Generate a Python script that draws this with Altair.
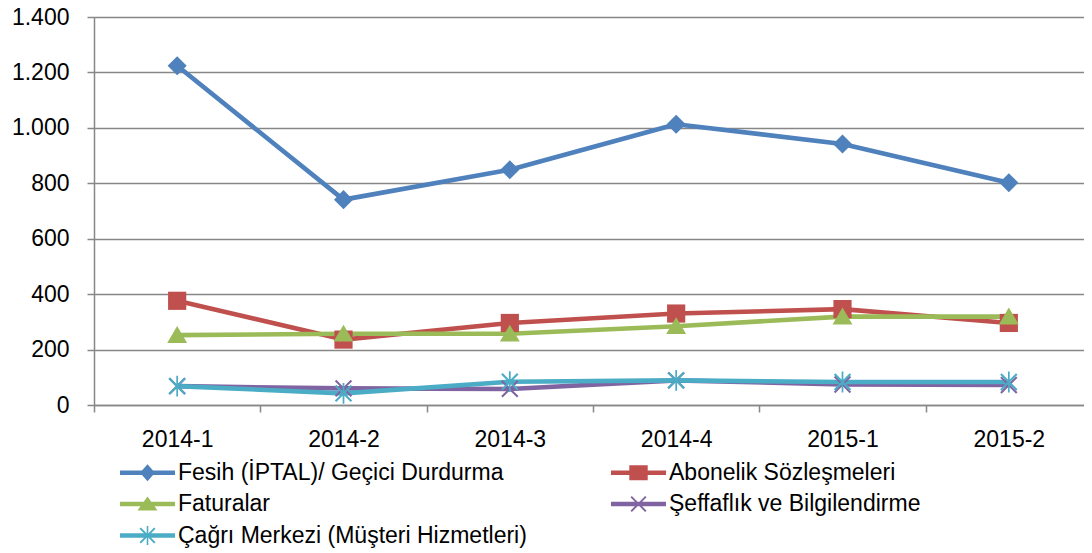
import altair as alt
import pandas as pd

categories = ["2014-1", "2014-2", "2014-3", "2014-4", "2015-1", "2015-2"]
series_names = [
    "Fesih (İPTAL)/ Geçici Durdurma",
    "Abonelik Sözleşmeleri",
    "Faturalar",
    "Şeffaflık ve Bilgilendirme",
    "Çağrı Merkezi (Müşteri Hizmetleri)",
]
fesih = [1224, 741, 849, 1013, 942, 802]
abonelik = [376, 236, 296, 330, 346, 296]
faturalar = [252, 257, 257, 284, 319, 319]
seffaflik = [68, 60, 58, 89, 74, 72]
cagri = [68, 42, 84, 89, 83, 83]
y_ticks = [0, 200, 400, 600, 800, 1000, 1200, 1400]

colors = ["#4F81BD", "#C0504D", "#9BBB59", "#8064A2", "#4BACC6"]

X_PATH = ("M-1,-0.83L-0.83,-1L0,-0.17L0.83,-1L1,-0.83L0.17,0L1,0.83L0.83,1"
          "L0,0.17L-0.83,1L-1,0.83L-0.17,0Z")
ASTER_PATH = X_PATH + "M-0.1,-1.2L0.1,-1.2L0.1,1.2L-0.1,1.2Z"
DIAMOND = "M0,-1.1L1.1,0L0,1.1L-1.1,0Z"
SQUARE = "M-1.05,-1.05L1.05,-1.05L1.05,1.05L-1.05,1.05Z"
TRIANGLE = "M0,-1.05L1.15,0.9L-1.15,0.9Z"
plot_shapes = [DIAMOND, SQUARE, TRIANGLE, X_PATH, ASTER_PATH]

LINE = "M-3.44,-0.29L3.44,-0.29L3.44,0.29L-3.44,0.29Z"
legend_shapes = [
    LINE + "M0,-1.06L0.94,0L0,1.06L-0.94,0Z",
    LINE + "M-1.15,-0.95L1.15,-0.95L1.15,0.95L-1.15,0.95Z",
    LINE + "M0,-0.95L1.25,0.8L-1.25,0.8Z",
    LINE + X_PATH,
    LINE + ASTER_PATH,
]

rows = []
for name, vals in zip(series_names, [fesih, abonelik, faturalar, seffaflik, cagri]):
    for c, v in zip(categories, vals):
        rows.append({"period": c, "series": name, "value": v})
df = pd.DataFrame(rows)

FONT = "Liberation Sans"
GRID = "#878787"

x_enc = alt.X(
    "period:N",
    sort=categories,
    scale=alt.Scale(type="band", paddingInner=0, paddingOuter=0, range=[0, 998]),
    axis=alt.Axis(
        title=None, labelAngle=0, labelFontSize=23, labelFont=FONT, labelColor="#000000",
        tickBand="extent", tickSize=7, tickColor=GRID, tickWidth=1.5,
        domainColor=GRID, domainWidth=1.5, labelPadding=16, grid=False,
    ),
)
y_enc = alt.Y(
    "value:Q",
    scale=alt.Scale(domain=[0, 1400], nice=False, zero=True),
    axis=alt.Axis(
        title=None, values=y_ticks, labelFontSize=23, labelFont=FONT, labelColor="#000000",
        labelExpr="replace(format(datum.value, ','), ',', '.')",
        tickSize=7, tickColor=GRID, tickWidth=1.5, domainColor=GRID, domainWidth=1.5,
        labelPadding=18, grid=True, gridColor=GRID, gridWidth=1.3,
    ),
)
color_scale = alt.Scale(domain=series_names, range=colors)

base = alt.Chart(df)

lines = base.mark_line(strokeWidth=4.6, strokeJoin="round").encode(
    x=x_enc, y=y_enc,
    color=alt.Color("series:N", scale=color_scale, legend=None),
    detail="series:N",
)

points = base.mark_point(filled=True, opacity=1, size=300).encode(
    x=x_enc, y=y_enc,
    color=alt.Color("series:N", scale=color_scale, legend=None),
    shape=alt.Shape("series:N", scale=alt.Scale(domain=series_names, range=plot_shapes), legend=None),
)

legend = alt.Legend(
    title=None, orient="none", legendX=42, legendY=444, direction="horizontal",
    columns=2, labelFontSize=23, labelFont=FONT, labelColor="#000000", labelLimit=600,
    symbolSize=256, labelOffset=19, columnPadding=83, rowPadding=7.5, padding=0,
    symbolStrokeWidth=0, symbolOpacity=1,
)
legend_layer = base.transform_filter("false").mark_point(filled=True, opacity=1).encode(
    color=alt.Color("series:N", scale=alt.Scale(domain=series_names, range=colors), legend=legend),
    shape=alt.Shape("series:N", scale=alt.Scale(domain=series_names, range=legend_shapes), legend=legend),
)

chart = (
    alt.layer(lines, points, legend_layer)
    .resolve_scale(color="independent", shape="independent")
    .properties(
        width=990, height=388,
        autosize=alt.AutoSizeParams(type="none"),
        padding={"left": 86, "top": 9, "right": 0, "bottom": 146},
    )
    .configure_view(strokeWidth=0)
)

chart.save("out.html", embed_options={"renderer": "svg", "actions": False})
